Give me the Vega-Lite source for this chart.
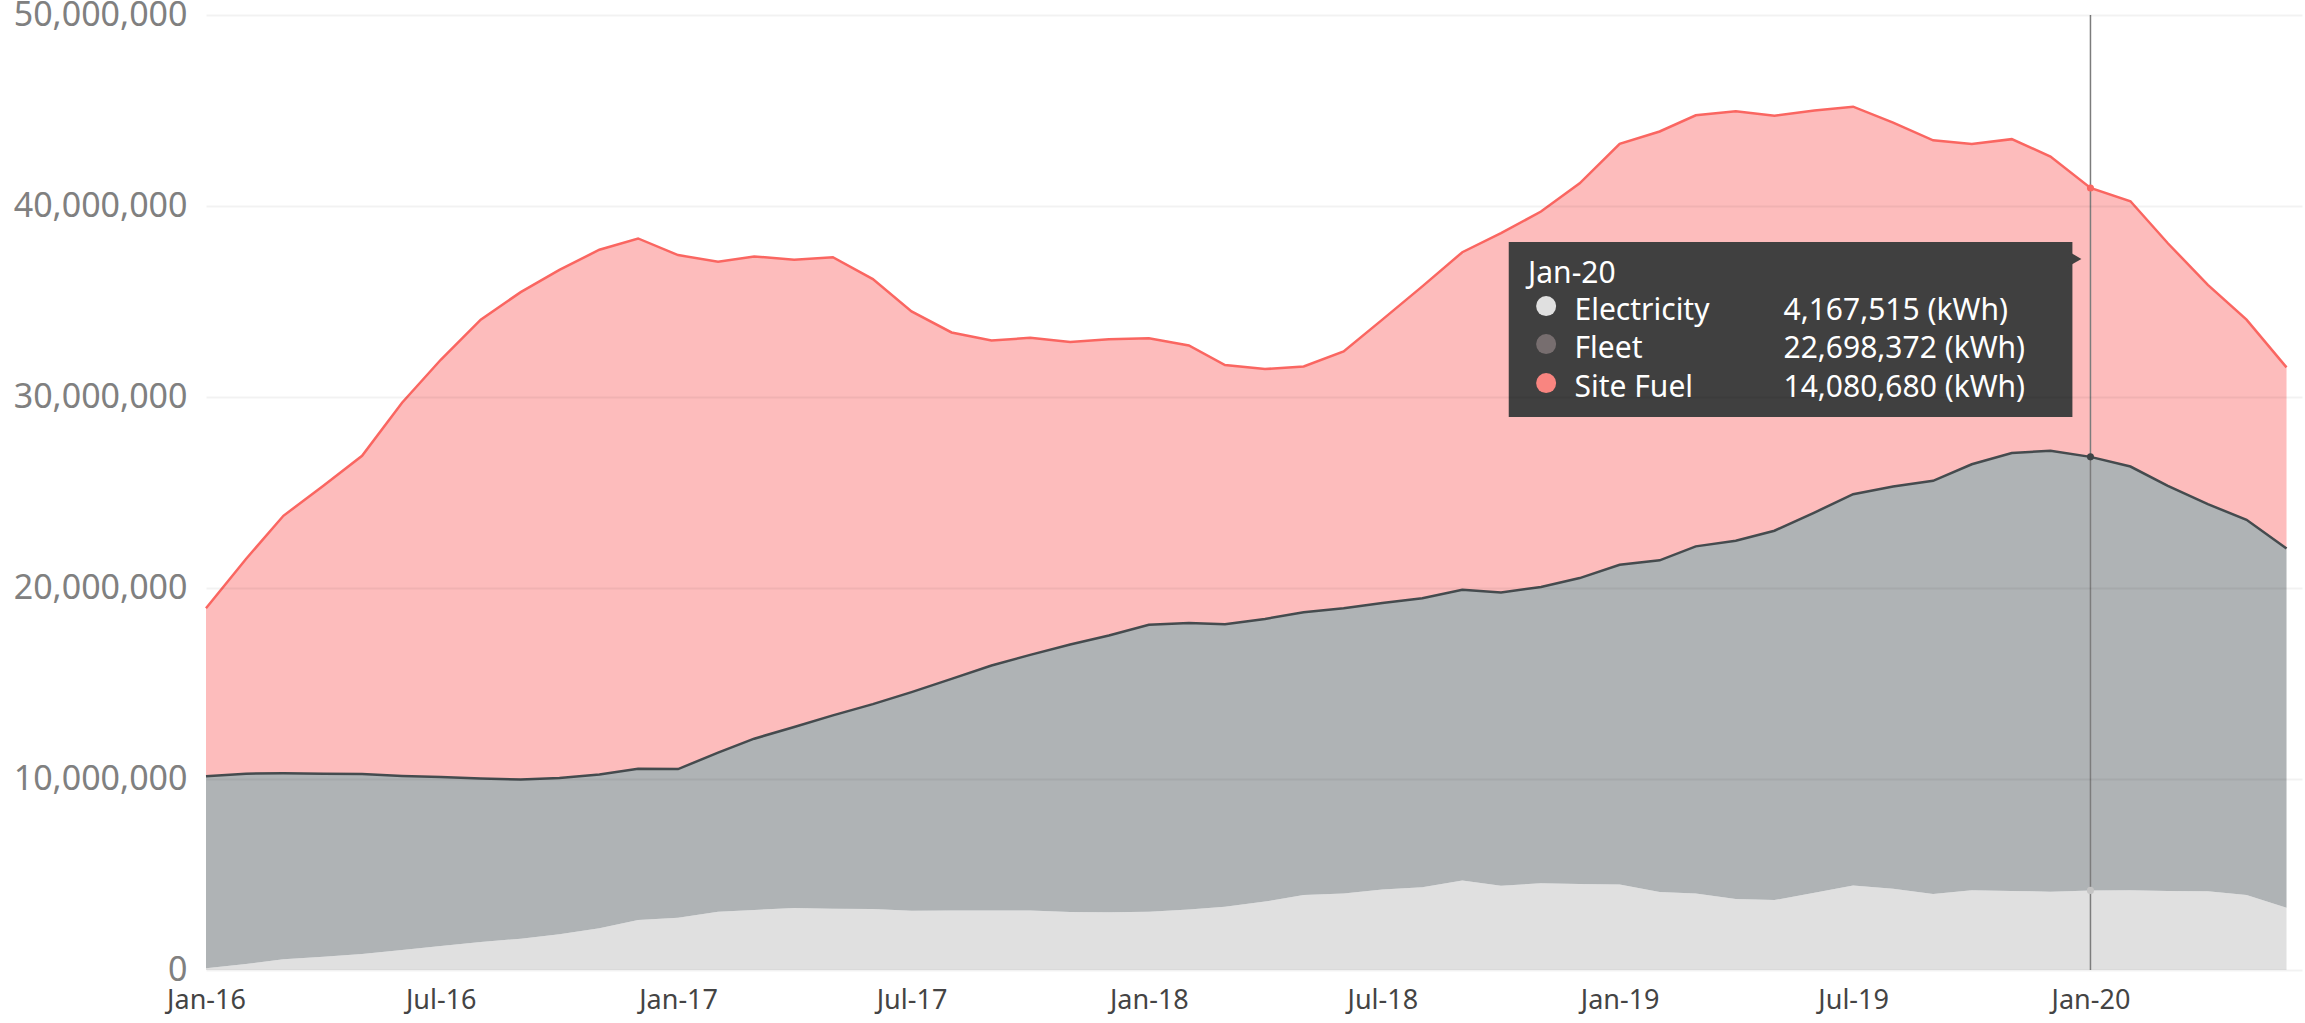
{
  "$schema": "https://vega.github.io/schema/vega-lite/v6.json",
  "width": 2096,
  "height": 955,
  "autosize": {"type": "none"},
  "padding": {"left": 206, "top": 15, "right": 3, "bottom": 53},
  "background": "#ffffff",
  "config": {"view": {"stroke": null}, "font": "Noto Sans"},
  "data": {
    "format": {"parse": {"month": "utc:'%Y-%m-%d'"}},
    "values": [
      {"month": "2016-01-01", "type": "Electricity", "kWh": 90000}, {"month": "2016-01-01", "type": "Fleet", "kWh": 10050000}, {"month": "2016-01-01", "type": "Site Fuel", "kWh": 8800000},
      {"month": "2016-02-01", "type": "Electricity", "kWh": 310000}, {"month": "2016-02-01", "type": "Fleet", "kWh": 9970000}, {"month": "2016-02-01", "type": "Site Fuel", "kWh": 11240000},
      {"month": "2016-03-01", "type": "Electricity", "kWh": 560000}, {"month": "2016-03-01", "type": "Fleet", "kWh": 9740000}, {"month": "2016-03-01", "type": "Site Fuel", "kWh": 13480000},
      {"month": "2016-04-01", "type": "Electricity", "kWh": 700000}, {"month": "2016-04-01", "type": "Fleet", "kWh": 9580000}, {"month": "2016-04-01", "type": "Site Fuel", "kWh": 15070000},
      {"month": "2016-05-01", "type": "Electricity", "kWh": 840000}, {"month": "2016-05-01", "type": "Fleet", "kWh": 9420000}, {"month": "2016-05-01", "type": "Site Fuel", "kWh": 16660000},
      {"month": "2016-06-01", "type": "Electricity", "kWh": 1050000}, {"month": "2016-06-01", "type": "Fleet", "kWh": 9110000}, {"month": "2016-06-01", "type": "Site Fuel", "kWh": 19540000},
      {"month": "2016-07-01", "type": "Electricity", "kWh": 1260000}, {"month": "2016-07-01", "type": "Fleet", "kWh": 8840000}, {"month": "2016-07-01", "type": "Site Fuel", "kWh": 21850000},
      {"month": "2016-08-01", "type": "Electricity", "kWh": 1470000}, {"month": "2016-08-01", "type": "Fleet", "kWh": 8550000}, {"month": "2016-08-01", "type": "Site Fuel", "kWh": 24030000},
      {"month": "2016-09-01", "type": "Electricity", "kWh": 1640000}, {"month": "2016-09-01", "type": "Fleet", "kWh": 8330000}, {"month": "2016-09-01", "type": "Site Fuel", "kWh": 25520000},
      {"month": "2016-10-01", "type": "Electricity", "kWh": 1870000}, {"month": "2016-10-01", "type": "Fleet", "kWh": 8180000}, {"month": "2016-10-01", "type": "Site Fuel", "kWh": 26610000},
      {"month": "2016-11-01", "type": "Electricity", "kWh": 2180000}, {"month": "2016-11-01", "type": "Fleet", "kWh": 8050000}, {"month": "2016-11-01", "type": "Site Fuel", "kWh": 27480000},
      {"month": "2016-12-01", "type": "Electricity", "kWh": 2620000}, {"month": "2016-12-01", "type": "Fleet", "kWh": 7920000}, {"month": "2016-12-01", "type": "Site Fuel", "kWh": 27760000},
      {"month": "2017-01-01", "type": "Electricity", "kWh": 2740000}, {"month": "2017-01-01", "type": "Fleet", "kWh": 7780000}, {"month": "2017-01-01", "type": "Site Fuel", "kWh": 26910000},
      {"month": "2017-02-01", "type": "Electricity", "kWh": 3050000}, {"month": "2017-02-01", "type": "Fleet", "kWh": 8330000}, {"month": "2017-02-01", "type": "Site Fuel", "kWh": 25700000},
      {"month": "2017-03-01", "type": "Electricity", "kWh": 3140000}, {"month": "2017-03-01", "type": "Fleet", "kWh": 8970000}, {"month": "2017-03-01", "type": "Site Fuel", "kWh": 25250000},
      {"month": "2017-04-01", "type": "Electricity", "kWh": 3250000}, {"month": "2017-04-01", "type": "Fleet", "kWh": 9470000}, {"month": "2017-04-01", "type": "Site Fuel", "kWh": 24460000},
      {"month": "2017-05-01", "type": "Electricity", "kWh": 3210000}, {"month": "2017-05-01", "type": "Fleet", "kWh": 10120000}, {"month": "2017-05-01", "type": "Site Fuel", "kWh": 23990000},
      {"month": "2017-06-01", "type": "Electricity", "kWh": 3190000}, {"month": "2017-06-01", "type": "Fleet", "kWh": 10730000}, {"month": "2017-06-01", "type": "Site Fuel", "kWh": 22250000},
      {"month": "2017-07-01", "type": "Electricity", "kWh": 3100000}, {"month": "2017-07-01", "type": "Fleet", "kWh": 11450000}, {"month": "2017-07-01", "type": "Site Fuel", "kWh": 19930000},
      {"month": "2017-08-01", "type": "Electricity", "kWh": 3120000}, {"month": "2017-08-01", "type": "Fleet", "kWh": 12120000}, {"month": "2017-08-01", "type": "Site Fuel", "kWh": 18140000},
      {"month": "2017-09-01", "type": "Electricity", "kWh": 3120000}, {"month": "2017-09-01", "type": "Fleet", "kWh": 12820000}, {"month": "2017-09-01", "type": "Site Fuel", "kWh": 17020000},
      {"month": "2017-10-01", "type": "Electricity", "kWh": 3120000}, {"month": "2017-10-01", "type": "Fleet", "kWh": 13380000}, {"month": "2017-10-01", "type": "Site Fuel", "kWh": 16600000},
      {"month": "2017-11-01", "type": "Electricity", "kWh": 3040000}, {"month": "2017-11-01", "type": "Fleet", "kWh": 14000000}, {"month": "2017-11-01", "type": "Site Fuel", "kWh": 15840000},
      {"month": "2017-12-01", "type": "Electricity", "kWh": 3020000}, {"month": "2017-12-01", "type": "Fleet", "kWh": 14490000}, {"month": "2017-12-01", "type": "Site Fuel", "kWh": 15510000},
      {"month": "2018-01-01", "type": "Electricity", "kWh": 3050000}, {"month": "2018-01-01", "type": "Fleet", "kWh": 15030000}, {"month": "2018-01-01", "type": "Site Fuel", "kWh": 14990000},
      {"month": "2018-02-01", "type": "Electricity", "kWh": 3170000}, {"month": "2018-02-01", "type": "Fleet", "kWh": 15000000}, {"month": "2018-02-01", "type": "Site Fuel", "kWh": 14530000},
      {"month": "2018-03-01", "type": "Electricity", "kWh": 3310000}, {"month": "2018-03-01", "type": "Fleet", "kWh": 14790000}, {"month": "2018-03-01", "type": "Site Fuel", "kWh": 13570000},
      {"month": "2018-04-01", "type": "Electricity", "kWh": 3580000}, {"month": "2018-04-01", "type": "Fleet", "kWh": 14800000}, {"month": "2018-04-01", "type": "Site Fuel", "kWh": 13080000},
      {"month": "2018-05-01", "type": "Electricity", "kWh": 3930000}, {"month": "2018-05-01", "type": "Fleet", "kWh": 14800000}, {"month": "2018-05-01", "type": "Site Fuel", "kWh": 12870000},
      {"month": "2018-06-01", "type": "Electricity", "kWh": 4010000}, {"month": "2018-06-01", "type": "Fleet", "kWh": 14930000}, {"month": "2018-06-01", "type": "Site Fuel", "kWh": 13450000},
      {"month": "2018-07-01", "type": "Electricity", "kWh": 4220000}, {"month": "2018-07-01", "type": "Fleet", "kWh": 15000000}, {"month": "2018-07-01", "type": "Site Fuel", "kWh": 14830000},
      {"month": "2018-08-01", "type": "Electricity", "kWh": 4330000}, {"month": "2018-08-01", "type": "Fleet", "kWh": 15130000}, {"month": "2018-08-01", "type": "Site Fuel", "kWh": 16330000},
      {"month": "2018-09-01", "type": "Electricity", "kWh": 4690000}, {"month": "2018-09-01", "type": "Fleet", "kWh": 15220000}, {"month": "2018-09-01", "type": "Site Fuel", "kWh": 17670000},
      {"month": "2018-10-01", "type": "Electricity", "kWh": 4410000}, {"month": "2018-10-01", "type": "Fleet", "kWh": 15360000}, {"month": "2018-10-01", "type": "Site Fuel", "kWh": 18810000},
      {"month": "2018-11-01", "type": "Electricity", "kWh": 4540000}, {"month": "2018-11-01", "type": "Fleet", "kWh": 15510000}, {"month": "2018-11-01", "type": "Site Fuel", "kWh": 19660000},
      {"month": "2018-12-01", "type": "Electricity", "kWh": 4500000}, {"month": "2018-12-01", "type": "Fleet", "kWh": 16020000}, {"month": "2018-12-01", "type": "Site Fuel", "kWh": 20670000},
      {"month": "2019-01-01", "type": "Electricity", "kWh": 4480000}, {"month": "2019-01-01", "type": "Fleet", "kWh": 16740000}, {"month": "2019-01-01", "type": "Site Fuel", "kWh": 22030000},
      {"month": "2019-02-01", "type": "Electricity", "kWh": 4080000}, {"month": "2019-02-01", "type": "Fleet", "kWh": 17370000}, {"month": "2019-02-01", "type": "Site Fuel", "kWh": 22450000},
      {"month": "2019-03-01", "type": "Electricity", "kWh": 4000000}, {"month": "2019-03-01", "type": "Fleet", "kWh": 18180000}, {"month": "2019-03-01", "type": "Site Fuel", "kWh": 22570000},
      {"month": "2019-04-01", "type": "Electricity", "kWh": 3720000}, {"month": "2019-04-01", "type": "Fleet", "kWh": 18750000}, {"month": "2019-04-01", "type": "Site Fuel", "kWh": 22490000},
      {"month": "2019-05-01", "type": "Electricity", "kWh": 3660000}, {"month": "2019-05-01", "type": "Fleet", "kWh": 19340000}, {"month": "2019-05-01", "type": "Site Fuel", "kWh": 21730000},
      {"month": "2019-06-01", "type": "Electricity", "kWh": 4050000}, {"month": "2019-06-01", "type": "Fleet", "kWh": 19900000}, {"month": "2019-06-01", "type": "Site Fuel", "kWh": 21050000},
      {"month": "2019-07-01", "type": "Electricity", "kWh": 4430000}, {"month": "2019-07-01", "type": "Fleet", "kWh": 20480000}, {"month": "2019-07-01", "type": "Site Fuel", "kWh": 20290000},
      {"month": "2019-08-01", "type": "Electricity", "kWh": 4260000}, {"month": "2019-08-01", "type": "Fleet", "kWh": 21050000}, {"month": "2019-08-01", "type": "Site Fuel", "kWh": 19060000},
      {"month": "2019-09-01", "type": "Electricity", "kWh": 3980000}, {"month": "2019-09-01", "type": "Fleet", "kWh": 21630000}, {"month": "2019-09-01", "type": "Site Fuel", "kWh": 17830000},
      {"month": "2019-10-01", "type": "Electricity", "kWh": 4170000}, {"month": "2019-10-01", "type": "Fleet", "kWh": 22310000}, {"month": "2019-10-01", "type": "Site Fuel", "kWh": 16770000},
      {"month": "2019-11-01", "type": "Electricity", "kWh": 4140000}, {"month": "2019-11-01", "type": "Fleet", "kWh": 22930000}, {"month": "2019-11-01", "type": "Site Fuel", "kWh": 16430000},
      {"month": "2019-12-01", "type": "Electricity", "kWh": 4100000}, {"month": "2019-12-01", "type": "Fleet", "kWh": 23080000}, {"month": "2019-12-01", "type": "Site Fuel", "kWh": 15410000},
      {"month": "2020-01-01", "type": "Electricity", "kWh": 4167515}, {"month": "2020-01-01", "type": "Fleet", "kWh": 22698372}, {"month": "2020-01-01", "type": "Site Fuel", "kWh": 14080680},
      {"month": "2020-02-01", "type": "Electricity", "kWh": 4170000}, {"month": "2020-02-01", "type": "Fleet", "kWh": 22190000}, {"month": "2020-02-01", "type": "Site Fuel", "kWh": 13890000},
      {"month": "2020-03-01", "type": "Electricity", "kWh": 4140000}, {"month": "2020-03-01", "type": "Fleet", "kWh": 21210000}, {"month": "2020-03-01", "type": "Site Fuel", "kWh": 12700000},
      {"month": "2020-04-01", "type": "Electricity", "kWh": 4120000}, {"month": "2020-04-01", "type": "Fleet", "kWh": 20270000}, {"month": "2020-04-01", "type": "Site Fuel", "kWh": 11480000},
      {"month": "2020-05-01", "type": "Electricity", "kWh": 3930000}, {"month": "2020-05-01", "type": "Fleet", "kWh": 19640000}, {"month": "2020-05-01", "type": "Site Fuel", "kWh": 10480000},
      {"month": "2020-06-01", "type": "Electricity", "kWh": 3260000}, {"month": "2020-06-01", "type": "Fleet", "kWh": 18810000}, {"month": "2020-06-01", "type": "Site Fuel", "kWh": 9480000}
    ]
  },
  "transform": [
    {"stack": "kWh", "groupby": ["month"], "sort": [{"field": "type", "order": "ascending"}], "as": ["y0", "y1"]}
  ],
  "layer": [
    {
      "mark": {"type": "area"},
      "encoding": {
        "x": {
          "field": "month", "type": "temporal",
          "scale": {"type": "utc", "nice": false, "domain": [{"year": 2016, "month": 1, "date": 1, "utc": true}, {"year": 2020, "month": 6, "date": 13, "utc": true}]},
          "axis": {
            "values": [
              {"year": 2016, "month": 1, "date": 1, "utc": true}, {"year": 2016, "month": 7, "date": 1, "utc": true},
              {"year": 2017, "month": 1, "date": 1, "utc": true}, {"year": 2017, "month": 7, "date": 1, "utc": true},
              {"year": 2018, "month": 1, "date": 1, "utc": true}, {"year": 2018, "month": 7, "date": 1, "utc": true},
              {"year": 2019, "month": 1, "date": 1, "utc": true}, {"year": 2019, "month": 7, "date": 1, "utc": true},
              {"year": 2020, "month": 1, "date": 1, "utc": true}
            ],
            "labelExpr": "utcFormat(datum.value, '%b-%y')",
            "labelFont": "Noto Sans", "labelFontSize": 27, "labelColor": "#444444",
            "ticks": false, "domain": false, "grid": false, "labelPadding": 17,
            "labelFlush": false, "labelOverlap": false, "title": null
          }
        },
        "y": {
          "field": "y1", "type": "quantitative",
          "scale": {"domain": [0, 50000000], "nice": false},
          "axis": {
            "values": [0, 10000000, 20000000, 30000000, 40000000, 50000000],
            "format": ",d",
            "labelExpr": "datum.value === 0 ? '0\u00a0\u00a0' : datum.label",
            "labelFont": "Noto Sans", "labelFontSize": 34, "labelColor": "#808080",
            "ticks": false, "domain": false, "gridColor": "#000000", "gridOpacity": 0.05, "gridWidth": 2,
            "labelPadding": 19, "title": null, "zindex": 1
          }
        },
        "y2": {"field": "y0"},
        "color": {
          "field": "type", "type": "nominal",
          "scale": {"domain": ["Electricity", "Fleet", "Site Fuel"], "range": ["#e0e0e0", "#afb3b5", "#fdbcbc"]},
          "legend": null
        }
      }
    },
    {
      "mark": {"type": "line", "strokeWidth": 2.5},
      "transform": [{"filter": "datum.type !== 'Electricity'"}],
      "encoding": {
        "x": {"field": "month", "type": "temporal"},
        "y": {"field": "y1", "type": "quantitative"},
        "stroke": {
          "field": "type", "type": "nominal",
          "scale": {"domain": ["Fleet", "Site Fuel"], "range": ["#454b4e", "#fa6661"]},
          "legend": null
        }
      }
    },
    {
      "data": {"values": [{}]},
      "mark": {"type": "rule", "color": "#7c7c7c", "strokeWidth": 1.5},
      "encoding": {
        "x": {"datum": {"year": 2020, "month": 1, "date": 1, "utc": true}, "type": "temporal"},
        "y": {"datum": 0, "type": "quantitative"},
        "y2": {"datum": 50000000}
      }
    },
    {
      "mark": {"type": "point", "filled": true, "size": 50, "opacity": 1},
      "transform": [{"filter": "time(datum.month) === 1577836800000"}],
      "encoding": {
        "x": {"field": "month", "type": "temporal"},
        "y": {"field": "y1", "type": "quantitative"},
        "fill": {
          "field": "type", "type": "nominal",
          "scale": {"domain": ["Electricity", "Fleet", "Site Fuel"], "range": ["#c4c4c4", "#3f4446", "#fa6661"]},
          "legend": null
        }
      }
    },
    {
      "data": {"values": [{}]},
      "mark": {"type": "rect", "color": "#404040"},
      "encoding": {
        "x": {"datum": {"year": 2018, "month": 10, "date": 7, "utc": true}, "type": "temporal"},
        "x2": {"datum": {"year": 2019, "month": 12, "date": 18, "utc": true}},
        "y": {"datum": 38120000, "type": "quantitative"},
        "y2": {"datum": 28950000}
      }
    },
    {
      "data": {"values": [{}]},
      "mark": {"type": "point", "shape": "triangle-right", "filled": true, "color": "#404040", "opacity": 1, "size": 220},
      "encoding": {
        "x": {"datum": {"year": 2019, "month": 12, "date": 20, "utc": true}, "type": "temporal"},
        "y": {"datum": 37230000, "type": "quantitative"}
      }
    },
    {
      "data": {"values": [{}]},
      "mark": {"type": "text", "text": "Jan-20", "align": "left", "baseline": "alphabetic", "fontSize": 30, "color": "#ffffff", "font": "Noto Sans"},
      "encoding": {
        "x": {"datum": {"year": 2018, "month": 10, "date": 22, "utc": true}, "type": "temporal"},
        "y": {"datum": 35980000, "type": "quantitative"}
      }
    },
    {
      "data": {"values": [{}]},
      "mark": {"type": "point", "filled": true, "color": "#e0e0e0", "opacity": 1, "size": 400},
      "encoding": {
        "x": {"datum": {"year": 2018, "month": 11, "date": 5, "utc": true}, "type": "temporal"},
        "y": {"datum": 34760000, "type": "quantitative"}
      }
    },
    {
      "data": {"values": [{}]},
      "mark": {"type": "point", "filled": true, "color": "#776e6f", "opacity": 1, "size": 400},
      "encoding": {
        "x": {"datum": {"year": 2018, "month": 11, "date": 5, "utc": true}, "type": "temporal"},
        "y": {"datum": 32770000, "type": "quantitative"}
      }
    },
    {
      "data": {"values": [{}]},
      "mark": {"type": "point", "filled": true, "color": "#f98580", "opacity": 1, "size": 400},
      "encoding": {
        "x": {"datum": {"year": 2018, "month": 11, "date": 5, "utc": true}, "type": "temporal"},
        "y": {"datum": 30730000, "type": "quantitative"}
      }
    },
    {
      "data": {"values": [{}]},
      "mark": {"type": "text", "text": "Electricity", "align": "left", "baseline": "alphabetic", "fontSize": 30, "color": "#ffffff", "font": "Noto Sans"},
      "encoding": {
        "x": {"datum": {"year": 2018, "month": 11, "date": 27, "utc": true}, "type": "temporal"},
        "y": {"datum": 34030000, "type": "quantitative"}
      }
    },
    {
      "data": {"values": [{}]},
      "mark": {"type": "text", "text": "Fleet", "align": "left", "baseline": "alphabetic", "fontSize": 30, "color": "#ffffff", "font": "Noto Sans"},
      "encoding": {
        "x": {"datum": {"year": 2018, "month": 11, "date": 27, "utc": true}, "type": "temporal"},
        "y": {"datum": 32040000, "type": "quantitative"}
      }
    },
    {
      "data": {"values": [{}]},
      "mark": {"type": "text", "text": "Site Fuel", "align": "left", "baseline": "alphabetic", "fontSize": 30, "color": "#ffffff", "font": "Noto Sans"},
      "encoding": {
        "x": {"datum": {"year": 2018, "month": 11, "date": 27, "utc": true}, "type": "temporal"},
        "y": {"datum": 30000000, "type": "quantitative"}
      }
    },
    {
      "data": {"values": [{}]},
      "mark": {"type": "text", "text": "4,167,515 (kWh)", "align": "left", "baseline": "alphabetic", "fontSize": 30, "color": "#ffffff", "font": "Noto Sans"},
      "encoding": {
        "x": {"datum": {"year": 2019, "month": 5, "date": 8, "utc": true}, "type": "temporal"},
        "y": {"datum": 34030000, "type": "quantitative"}
      }
    },
    {
      "data": {"values": [{}]},
      "mark": {"type": "text", "text": "22,698,372 (kWh)", "align": "left", "baseline": "alphabetic", "fontSize": 30, "color": "#ffffff", "font": "Noto Sans"},
      "encoding": {
        "x": {"datum": {"year": 2019, "month": 5, "date": 8, "utc": true}, "type": "temporal"},
        "y": {"datum": 32040000, "type": "quantitative"}
      }
    },
    {
      "data": {"values": [{}]},
      "mark": {"type": "text", "text": "14,080,680 (kWh)", "align": "left", "baseline": "alphabetic", "fontSize": 30, "color": "#ffffff", "font": "Noto Sans"},
      "encoding": {
        "x": {"datum": {"year": 2019, "month": 5, "date": 8, "utc": true}, "type": "temporal"},
        "y": {"datum": 30000000, "type": "quantitative"}
      }
    }
  ],
  "resolve": {"scale": {"color": "independent", "stroke": "independent", "fill": "independent"}}
}
